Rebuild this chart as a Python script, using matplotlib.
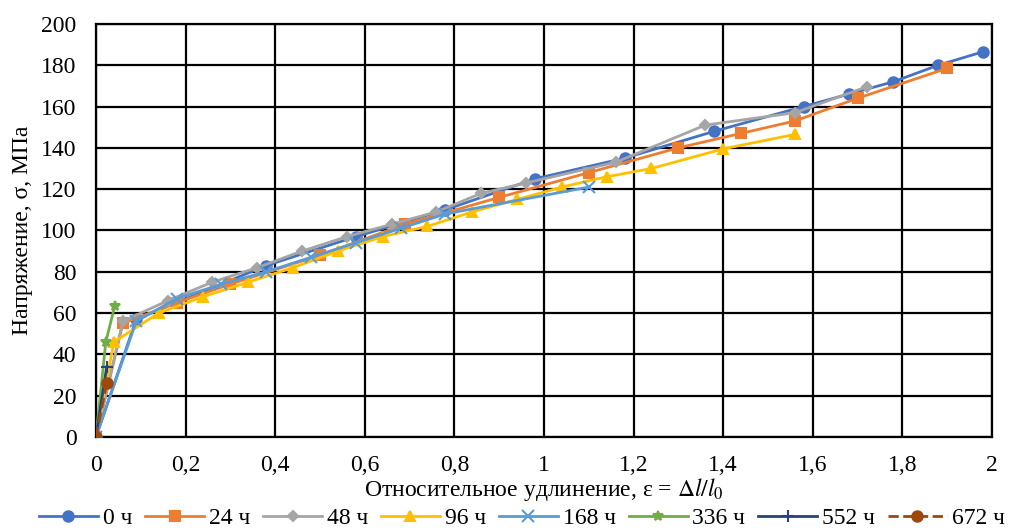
import numpy as np
import matplotlib
matplotlib.use('Agg')
from matplotlib import pyplot as plt

# данные: относительное удлинение и напряжение, МПа
x_0 = [0, 0.09, 0.38, 0.58, 0.78, 0.98, 1.18, 1.38, 1.58, 1.68, 1.78, 1.88, 1.98]
y_0 = [0, 57, 83, 97, 110, 125, 135, 148, 160, 166, 172, 180, 186.5]

x_24 = [0, 0.06, 0.18, 0.30, 0.50, 0.69, 0.90, 1.10, 1.30, 1.44, 1.56, 1.70, 1.90]
y_24 = [0, 55, 65, 74, 88, 103, 116, 128, 140, 147, 153, 164, 178.5]

x_48 = [0, 0.06, 0.16, 0.26, 0.36, 0.46, 0.56, 0.66, 0.76, 0.86, 0.96, 1.16, 1.36, 1.56, 1.72]
y_48 = [0, 56, 66, 75, 82, 90, 97, 103, 109, 118, 123, 133, 151, 157, 169.5]

x_96 = [0, 0.04, 0.14, 0.24, 0.34, 0.44, 0.54, 0.64, 0.74, 0.84, 0.94, 1.04, 1.14, 1.24, 1.40, 1.56]
y_96 = [0, 46, 60, 68, 75, 82, 90, 97, 102, 109, 115, 121, 126, 130, 139.5, 146.5]

x_168 = [0, 0.09, 0.18, 0.28, 0.38, 0.48, 0.58, 0.68, 0.78, 1.10]
y_168 = [0, 56, 67, 74, 80, 87, 94, 101, 108, 121]

x_336 = [0, 0.022, 0.042]
y_336 = [0, 46, 63.5]

x_552 = [0, 0.024]
y_552 = [0, 34]

x_672 = [0, 0.024]
y_672 = [0, 26]

'''
серии: подпись, цвет, маркер, стиль линии
'''
series = [
    (x_0, y_0, '0 ч', '#4472C4', 'o', '-'),
    (x_24, y_24, '24 ч', '#ED7D31', 's', '-'),
    (x_48, y_48, '48 ч', '#A5A5A5', 'D', '-'),
    (x_96, y_96, '96 ч', '#FFC000', '^', '-'),
    (x_168, y_168, '168 ч', '#5B9BD5', 'x', '-'),
    (x_336, y_336, '336 ч', '#70AD47', '*', '-'),
    (x_552, y_552, '552 ч', '#264478', '+', '-'),
    (x_672, y_672, '672 ч', '#9E480E', 'o', '--'),
]

plt.rcParams['font.family'] = ['Liberation Serif', 'DejaVu Serif']
plt.rcParams['mathtext.fontset'] = 'stix'

fig = plt.figure(figsize=(10.09, 5.31), dpi=100)
ax = fig.add_axes([0.0951, 0.177, 0.888, 0.778])

for xs, ys, label, color, marker, ls in series:
    ms = 7.5
    if marker == 'D':
        ms = 5.5
    if marker in ('x', '+'):
        ms = 8
    ax.plot(xs, ys, color=color, marker=marker, linestyle=ls, linewidth=2,
            markersize=ms, markeredgewidth=1.5, label=label, zorder=3)

ax.set_xlim(0, 2)
ax.set_ylim(0, 200)
ax.set_xticks(np.arange(0, 2.01, 0.2))
ax.set_yticks(np.arange(0, 201, 20))
xlabels = []
for v in np.arange(0, 2.01, 0.2):
    s = ('%.1f' % v).rstrip('0').rstrip('.')
    xlabels.append(s.replace('.', ','))
ax.set_xticklabels(xlabels)
ax.grid(True, color='black', linewidth=1.6)
ax.set_axisbelow(True)
for sp in ax.spines.values():
    sp.set_color('black')
    sp.set_linewidth(1.6)
ax.tick_params(length=0, labelsize=17, pad=13)
ax.tick_params(axis='y', pad=14)

ax.set_xlabel(r'Относительное удлинение, ε = $\Delta l/l_0$', fontsize=17, labelpad=0)
ax.set_ylabel('Напряжение, σ, МПа', fontsize=17, labelpad=6)

fig.legend(loc='center', bbox_to_anchor=(0.517, 0.024), ncol=8, frameon=False,
           fontsize=17, handlelength=2.5, handletextpad=0.2, columnspacing=0.55)

fig.savefig('out.png', dpi=100)
